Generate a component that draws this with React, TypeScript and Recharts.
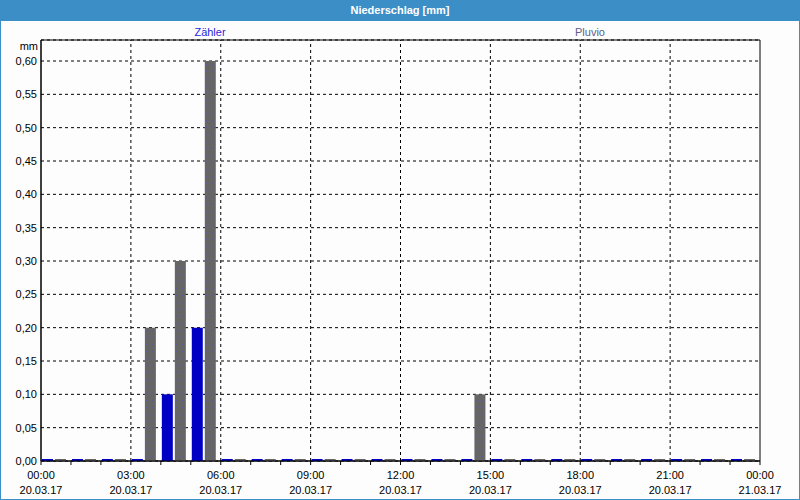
import { BarChart, Bar, XAxis, YAxis, CartesianGrid, ReferenceLine, ReferenceArea, Rectangle } from 'recharts';

const hours = ['00', '01', '02', '03', '04', '05', '06', '07', '08', '09', '10', '11',
  '12', '13', '14', '15', '16', '17', '18', '19', '20', '21', '22', '23'];
const zaehler = [0, 0, 0, 0, 0.1, 0.2, 0, 0, 0, 0, 0, 0, 0, 0, 0, 0, 0, 0, 0, 0, 0, 0, 0, 0];
const pluvio = [0, 0, 0, 0.2, 0.3, 0.6, 0, 0, 0, 0, 0, 0, 0, 0, 0.1, 0, 0, 0, 0, 0, 0, 0, 0, 0];

const tickHours = [0, 1, 2, 3, 4, 5, 6, 7, 8, 9, 10, 11, 12, 13, 14, 15, 16, 17, 18, 19, 20, 21, 22, 23, 24];
const labelHours = [0, 3, 6, 9, 12, 15, 18, 21, 24];
const timeLabels = ['00:00', '03:00', '06:00', '09:00', '12:00', '15:00', '18:00', '21:00', '00:00'];
const dateLabels = ['20.03.17', '20.03.17', '20.03.17', '20.03.17', '20.03.17', '20.03.17', '20.03.17', '20.03.17', '21.03.17'];
const yTicks = [0, 0.05, 0.1, 0.15, 0.2, 0.25, 0.3, 0.35, 0.4, 0.45, 0.5, 0.55, 0.6];

const data = hours.map((h, i) => ({ hour: h, start: Number(h), zaehler: zaehler[i], pluvio: pluvio[i] }));

const FONT = '"Liberation Sans", Arial, sans-serif';
const BLUE = '#0000c4';
const GRAY = '#666666';

const TimeTick = ({ x, y, payload }: any) => {
  const idx = labelHours.indexOf(payload.value);
  if (idx < 0) return null;
  return (
    <text x={x} y={y} textAnchor="middle" fontSize={11} fontFamily={FONT} fill="#000">
      <tspan x={x} dy={12}>{timeLabels[idx]}</tspan>
      <tspan x={x} dy={15}>{dateLabels[idx]}</tspan>
    </text>
  );
};

// bars sit slightly left inside their hour bin, like the original
const ShiftedBar = (props: any) => <Rectangle {...props} x={props.x - 2} />;

export default function App() {
  return (
    <div style={{
      position: 'absolute', left: 0, top: 0, width: 800, height: 500,
      boxSizing: 'border-box', border: '1px solid #3c8fc6', background: '#fdfdfd',
      fontFamily: FONT,
    }}>
      <div style={{
        position: 'absolute', left: -1, top: -1, width: 800, height: 21, background: '#3c8fc6',
        color: '#fff', fontWeight: 'bold', fontSize: 11, textAlign: 'center', lineHeight: '21px',
      }}>
        Niederschlag [mm]
      </div>
      <div style={{ position: 'absolute', left: 159, top: 25, width: 100, textAlign: 'center', fontSize: 11, color: '#2828d8' }}>Zähler</div>
      <div style={{ position: 'absolute', left: 539, top: 25, width: 100, textAlign: 'center', fontSize: 11, color: '#5e5e8e' }}>Pluvio</div>
      <div style={{ position: 'absolute', left: 0, top: 39, width: 37, textAlign: 'right', fontSize: 11, color: '#000' }}>mm</div>
      <div style={{ position: 'absolute', left: -1, top: -1 }}>
        <BarChart width={800} height={500} data={data} barSize={11} barGap={2}
          margin={{ top: 40, right: 40, bottom: 1, left: 1 }}>
          <defs>
            <pattern id="dots" width="6" height="7" patternUnits="userSpaceOnUse">
              <rect width="6" height="7" fill={GRAY} />
              <rect x="2" y="1" width="1" height="1" fill="#5a5a9a" />
              <rect x="5" y="4" width="1" height="1" fill="#5a5a9a" />
            </pattern>
          </defs>
          <CartesianGrid vertical={false} stroke="#000" strokeDasharray="3 3" />
          <XAxis xAxisId="cat" dataKey="hour" type="category" hide height={0} />
          <XAxis xAxisId="time" dataKey="start" type="number" domain={[0, 24]} ticks={tickHours}
            allowDataOverflow interval={0} height={38} tickSize={4}
            axisLine={{ stroke: '#000' }} tickLine={{ stroke: '#000' }} tick={<TimeTick />} />
          <YAxis width={40} domain={[0, 0.6315]} ticks={yTicks} allowDataOverflow interval={0}
            axisLine={{ stroke: '#000' }} tickLine={false} tickSize={0} tickMargin={4}
            tick={{ fill: '#000', fontSize: 11, fontFamily: FONT }}
            tickFormatter={(v: number) => v.toFixed(2).replace('.', ',')} />
          {labelHours.slice(1, -1).map((h) => (
            <ReferenceLine key={h} xAxisId="time" x={h} stroke="#000" strokeDasharray="3 3" />
          ))}
          <ReferenceArea xAxisId="time" x1={0} x2={24} y1={0} y2={0.6315}
            fill="none" stroke="#000" strokeWidth={1} ifOverflow="visible" />
          <Bar xAxisId="cat" dataKey="zaehler" fill={BLUE} minPointSize={2}
            isAnimationActive={false} shape={ShiftedBar} />
          <Bar xAxisId="cat" dataKey="pluvio" fill="url(#dots)" minPointSize={2}
            isAnimationActive={false} shape={ShiftedBar} />
        </BarChart>
      </div>
    </div>
  );
}
